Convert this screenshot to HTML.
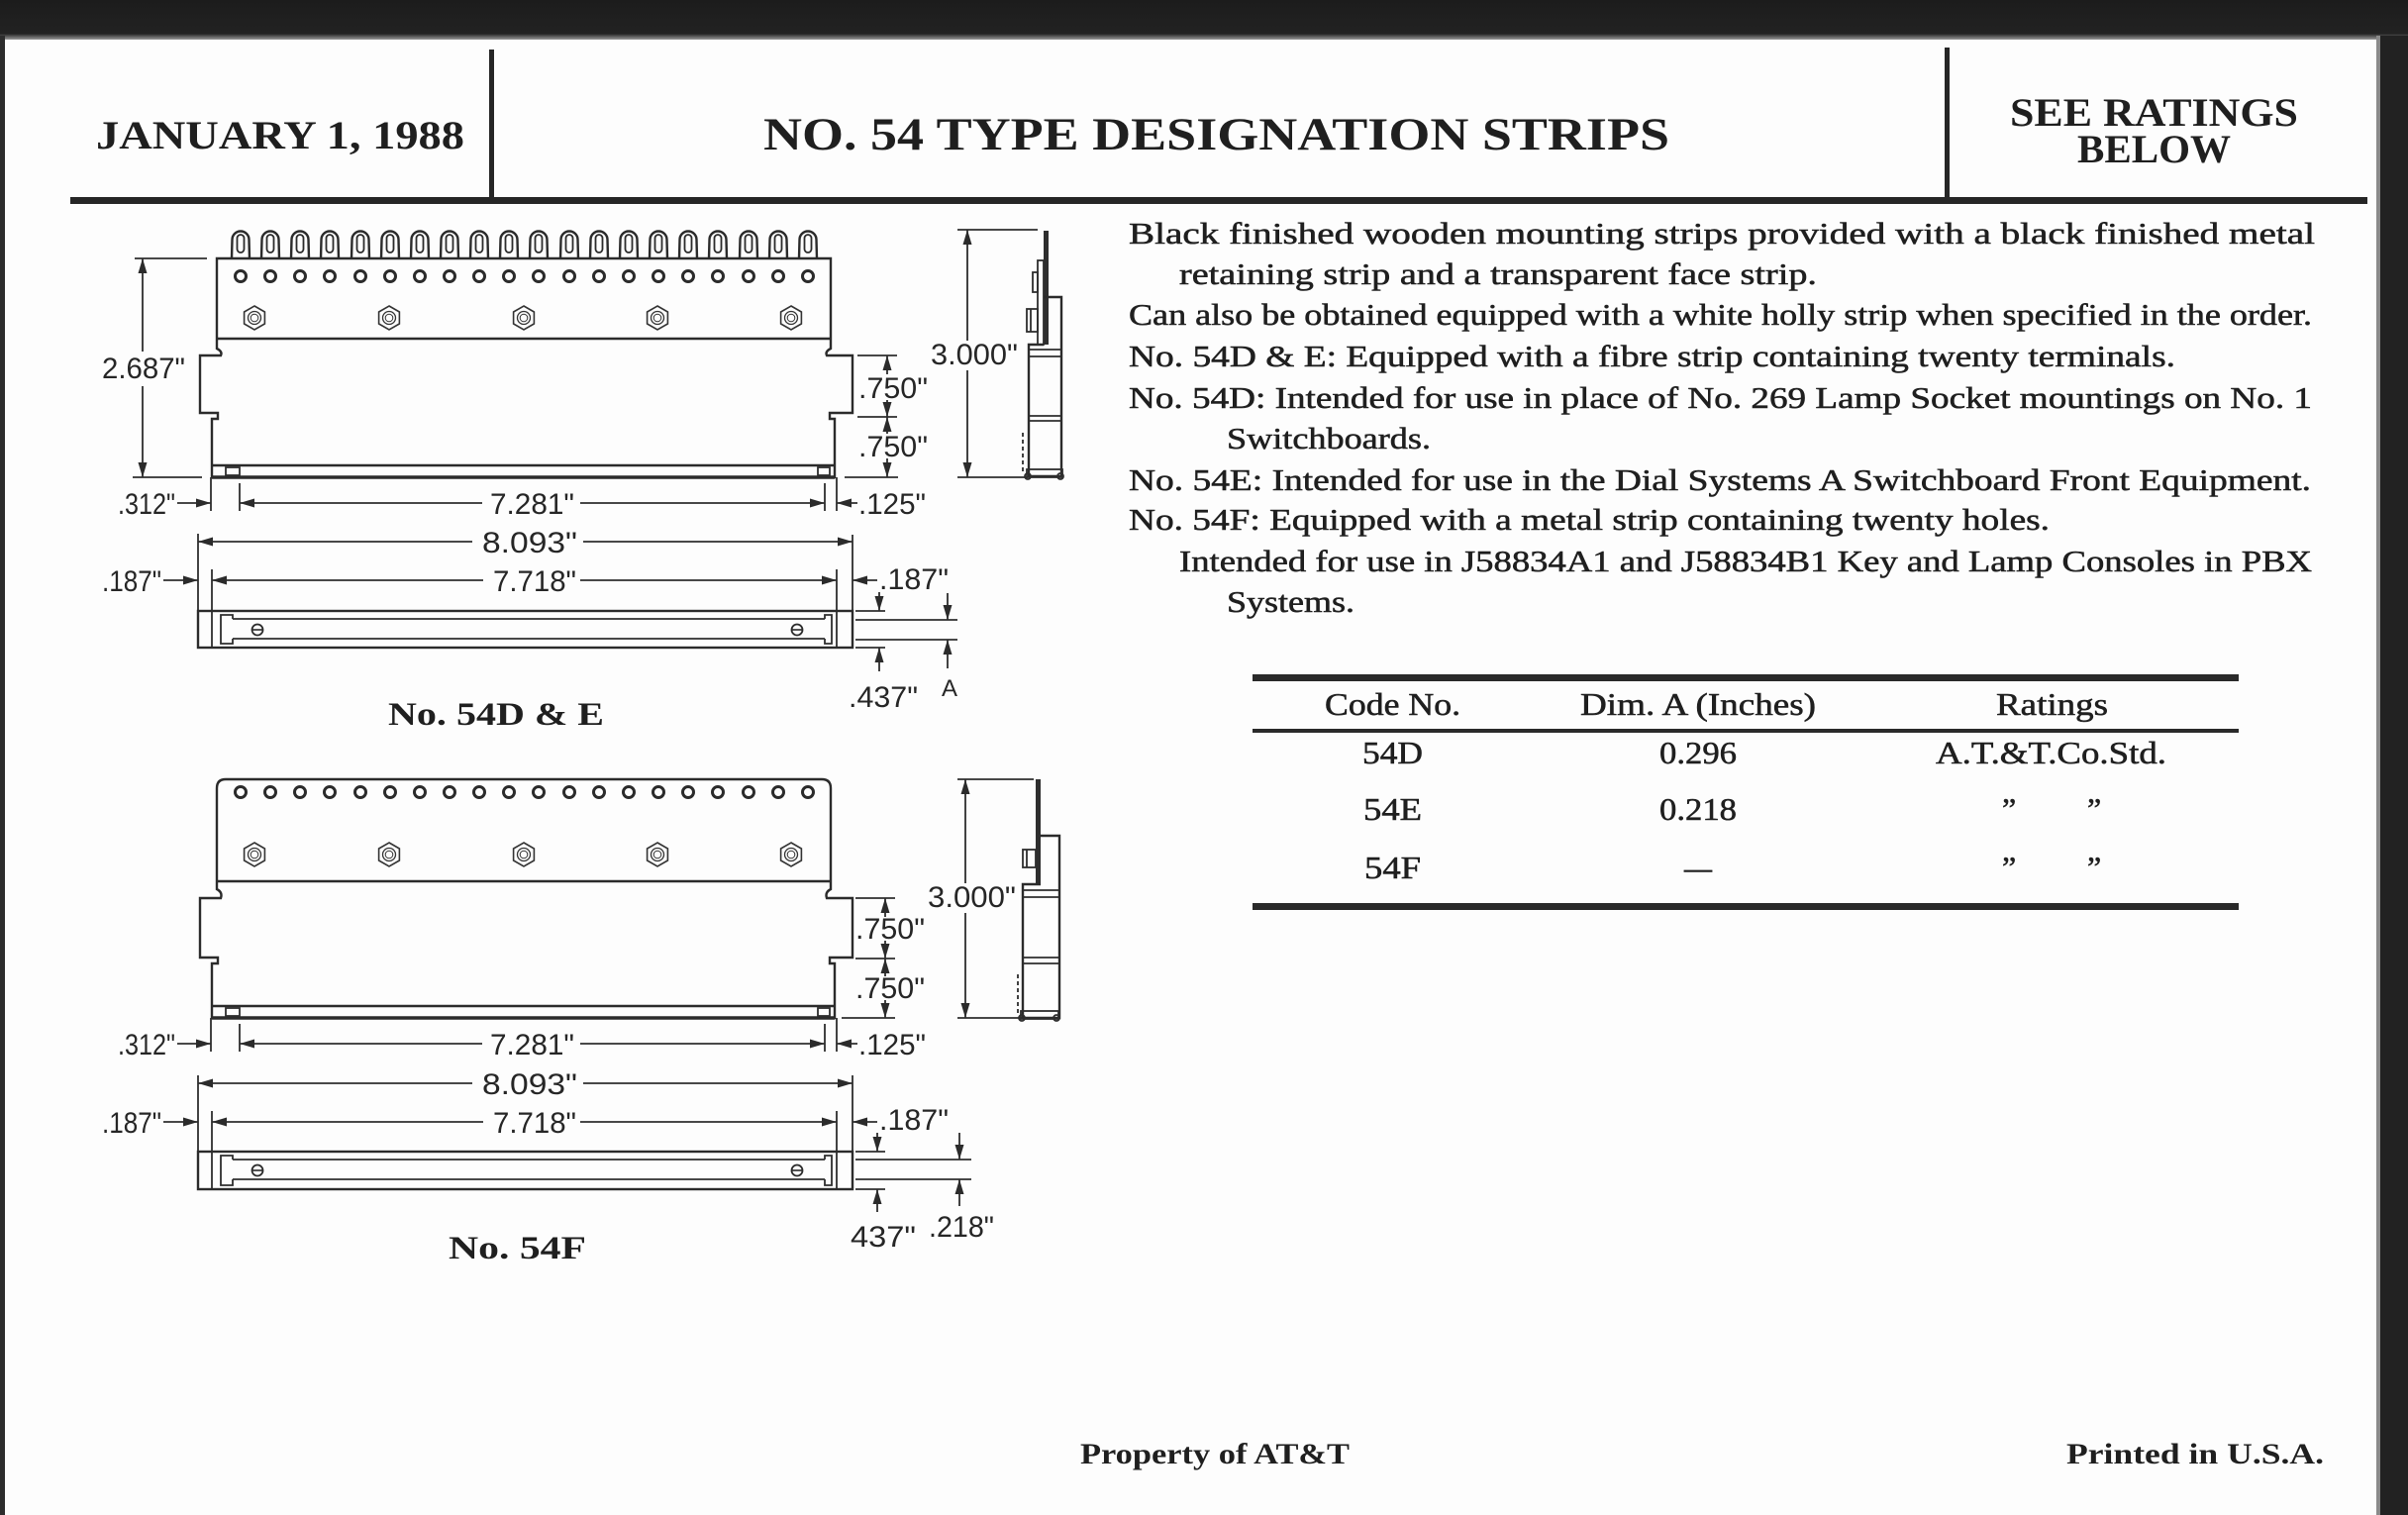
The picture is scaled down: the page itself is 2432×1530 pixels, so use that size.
<!DOCTYPE html>
<html>
<head>
<meta charset="utf-8">
<style>
html,body{margin:0;padding:0;background:#fdfdfd;}
svg{display:block;}
.serif{font-family:"Liberation Serif",serif;fill:#1f1f1f;}
.bt{stroke:#1f1f1f;stroke-width:0.55;}
.sans{font-family:"Liberation Sans",sans-serif;fill:#262626;}
.o{fill:none;stroke:#2b2b2b;stroke-width:2.4;}
.e{fill:none;stroke:#2e2e2e;stroke-width:1.8;}
.d{fill:none;stroke:#2e2e2e;stroke-width:1.8;marker-end:url(#ar);}
</style>
</head>
<body>
<svg width="2432" height="1530" viewBox="0 0 2432 1530" xmlns="http://www.w3.org/2000/svg">
<defs>
<marker id="ar" markerUnits="userSpaceOnUse" markerWidth="15" markerHeight="10" refX="15" refY="5" orient="auto">
<path d="M0,0.5 L15,5 L0,9.5 Z" fill="#2b2b2b"/>
</marker>
<linearGradient id="tg" x1="0" y1="0" x2="0" y2="1">
<stop offset="0" stop-color="#1c1c1c"/><stop offset="0.85" stop-color="#222"/><stop offset="1" stop-color="#9a9a9a"/>
</linearGradient>
<g id="t">
<path d="M-9,0 L-8.5,-19 A8.5,8.5 0 0 1 8.5,-19 L9,0" fill="none" stroke="#2b2b2b" stroke-width="2.4"/>
<rect x="-3.5" y="-24" width="7" height="18" rx="3.5" fill="none" stroke="#2b2b2b" stroke-width="1.8"/>
</g>
<g id="h"><circle r="5.5" fill="none" stroke="#2b2b2b" stroke-width="3"/></g>
<g id="n">
<polygon points="0,-12 10.4,-6 10.4,6 0,12 -10.4,6 -10.4,-6" fill="none" stroke="#333" stroke-width="1.6"/>
<circle r="6.5" fill="none" stroke="#333" stroke-width="1.3"/>
<circle r="3.8" fill="none" stroke="#333" stroke-width="1"/>
</g>
<g id="s"><circle r="5.5" fill="none" stroke="#2b2b2b" stroke-width="1.8"/><line x1="-5" y1="0" x2="5" y2="0" stroke="#2b2b2b" stroke-width="1.6"/></g>
</defs>

<!-- page background & dark borders -->
<rect x="0" y="0" width="2432" height="1530" fill="#fdfdfd"/>
<rect x="0" y="0" width="2432" height="40" fill="url(#tg)"/>
<rect x="0" y="36" width="5" height="1494" fill="#2c2c2c"/>
<rect x="2400" y="36" width="4" height="1494" fill="#8a8a8a"/>
<rect x="2404" y="36" width="28" height="1494" fill="#222"/>

<!-- header -->
<rect x="494" y="50" width="5" height="152" fill="#262626"/>
<rect x="1964" y="48" width="5" height="154" fill="#262626"/>
<rect x="71" y="199" width="2320" height="7" fill="#262626"/>
<text class="serif" x="97" y="150" font-size="40" font-weight="bold" textLength="372" lengthAdjust="spacingAndGlyphs">JANUARY 1, 1988</text>
<text class="serif" x="771" y="151" font-size="47" font-weight="bold" textLength="915" lengthAdjust="spacingAndGlyphs">NO. 54 TYPE DESIGNATION STRIPS</text>
<text class="serif" x="2030" y="127" font-size="40" font-weight="bold" textLength="291" lengthAdjust="spacingAndGlyphs">SEE RATINGS</text>
<text class="serif" x="2098" y="164" font-size="40" font-weight="bold" textLength="155" lengthAdjust="spacingAndGlyphs">BELOW</text>

<!-- body text -->
<g class="serif bt" font-size="31">
<text x="1140" y="246" textLength="1198" lengthAdjust="spacingAndGlyphs">Black finished wooden mounting strips provided with a black finished metal</text>
<text x="1191" y="287" textLength="644" lengthAdjust="spacingAndGlyphs">retaining strip and a transparent face strip.</text>
<text x="1140" y="328" textLength="1195" lengthAdjust="spacingAndGlyphs">Can also be obtained equipped with a white holly strip when specified in the order.</text>
<text x="1140" y="370" textLength="1057" lengthAdjust="spacingAndGlyphs">No. 54D &amp; E: Equipped with a fibre strip containing twenty terminals.</text>
<text x="1140" y="412" textLength="1195" lengthAdjust="spacingAndGlyphs">No. 54D: Intended for use in place of No. 269 Lamp Socket mountings on No. 1</text>
<text x="1239" y="453" textLength="206" lengthAdjust="spacingAndGlyphs">Switchboards.</text>
<text x="1140" y="495" textLength="1194" lengthAdjust="spacingAndGlyphs">No. 54E: Intended for use in the Dial Systems A Switchboard Front Equipment.</text>
<text x="1140" y="535" textLength="930" lengthAdjust="spacingAndGlyphs">No. 54F: Equipped with a metal strip containing twenty holes.</text>
<text x="1191" y="577" textLength="1144" lengthAdjust="spacingAndGlyphs">Intended for use in J58834A1 and J58834B1 Key and Lamp Consoles in PBX</text>
<text x="1239" y="618" textLength="129" lengthAdjust="spacingAndGlyphs">Systems.</text>
</g>

<!-- table -->
<rect x="1265" y="681" width="996" height="7" fill="#2a2a2a"/>
<rect x="1265" y="736" width="996" height="4" fill="#2a2a2a"/>
<rect x="1265" y="912" width="996" height="7" fill="#2a2a2a"/>
<g class="serif bt" font-size="32">
<text x="1338" y="722" textLength="137" lengthAdjust="spacingAndGlyphs">Code No.</text>
<text x="1596" y="722" textLength="238" lengthAdjust="spacingAndGlyphs">Dim. A (Inches)</text>
<text x="2016" y="722" textLength="113" lengthAdjust="spacingAndGlyphs">Ratings</text>
<text x="1376" y="771" textLength="61" lengthAdjust="spacingAndGlyphs">54D</text>
<text x="1676" y="771" textLength="78" lengthAdjust="spacingAndGlyphs">0.296</text>
<text x="1955" y="771" textLength="233" lengthAdjust="spacingAndGlyphs">A.T.&amp;T.Co.Std.</text>
<text x="1377" y="828" textLength="59" lengthAdjust="spacingAndGlyphs">54E</text>
<text x="1676" y="828" textLength="78" lengthAdjust="spacingAndGlyphs">0.218</text>
<text x="2022" y="828">”</text>
<text x="2108" y="828">”</text>
<text x="1378" y="887" textLength="57" lengthAdjust="spacingAndGlyphs">54F</text>
<text x="1701" y="887" textLength="28" lengthAdjust="spacingAndGlyphs">—</text>
<text x="2022" y="887">”</text>
<text x="2108" y="887">”</text>
</g>

<!-- footer -->
<text class="serif" x="1091" y="1478" font-size="30" font-weight="bold" textLength="272" lengthAdjust="spacingAndGlyphs">Property of AT&amp;T</text>
<text class="serif" x="2087" y="1478" font-size="30" font-weight="bold" textLength="260" lengthAdjust="spacingAndGlyphs">Printed in U.S.A.</text>

<!-- ================= DRAWING 1 : No. 54D & E ================= -->
<g>
<use href="#t" x="243" y="261"/><use href="#t" x="273" y="261"/><use href="#t" x="303" y="261"/><use href="#t" x="333" y="261"/>
<use href="#t" x="364" y="261"/><use href="#t" x="394" y="261"/><use href="#t" x="424" y="261"/><use href="#t" x="454" y="261"/>
<use href="#t" x="484" y="261"/><use href="#t" x="514" y="261"/><use href="#t" x="544" y="261"/><use href="#t" x="575" y="261"/>
<use href="#t" x="605" y="261"/><use href="#t" x="635" y="261"/><use href="#t" x="665" y="261"/><use href="#t" x="695" y="261"/>
<use href="#t" x="725" y="261"/><use href="#t" x="756" y="261"/><use href="#t" x="786" y="261"/><use href="#t" x="816" y="261"/>
<use href="#h" x="243" y="279"/><use href="#h" x="273" y="279"/><use href="#h" x="303" y="279"/><use href="#h" x="333" y="279"/>
<use href="#h" x="364" y="279"/><use href="#h" x="394" y="279"/><use href="#h" x="424" y="279"/><use href="#h" x="454" y="279"/>
<use href="#h" x="484" y="279"/><use href="#h" x="514" y="279"/><use href="#h" x="544" y="279"/><use href="#h" x="575" y="279"/>
<use href="#h" x="605" y="279"/><use href="#h" x="635" y="279"/><use href="#h" x="665" y="279"/><use href="#h" x="695" y="279"/>
<use href="#h" x="725" y="279"/><use href="#h" x="756" y="279"/><use href="#h" x="786" y="279"/><use href="#h" x="816" y="279"/>
<use href="#n" x="257" y="321"/><use href="#n" x="393" y="321"/><use href="#n" x="529" y="321"/><use href="#n" x="664" y="321"/><use href="#n" x="799" y="321"/>
<path class="o" d="M219,261 H839 V352 Q833,355 835,359 H861 V417 H838 V423 H843 V482 H214 V423 H220 V417 H202 V359 H223 Q225,355 219,352 Z"/>
<line class="o" x1="219" y1="342" x2="839" y2="342"/>
<line class="o" x1="214" y1="470" x2="843" y2="470" stroke-width="2"/>
<line x1="214" y1="482" x2="843" y2="482" stroke="#2b2b2b" stroke-width="3.5"/>
<rect class="e" x="228" y="472" width="14" height="8"/>
<rect class="e" x="826" y="472" width="12" height="8"/>

<line class="e" x1="136" y1="261" x2="209" y2="261"/>
<line class="e" x1="134" y1="482" x2="204" y2="482"/>
<line class="d" x1="144" y1="355" x2="144" y2="261"/>
<line class="d" x1="144" y1="390" x2="144" y2="482"/>
<text class="sans" x="103" y="382" font-size="30" textLength="84" lengthAdjust="spacingAndGlyphs">2.687"</text>

<line class="e" x1="866" y1="359" x2="906" y2="359"/>
<line class="e" x1="866" y1="421" x2="906" y2="421"/>
<line class="e" x1="853" y1="482" x2="907" y2="482"/>
<line class="d" x1="896" y1="378" x2="896" y2="359"/>
<line class="d" x1="896" y1="404" x2="896" y2="421"/>
<line class="d" x1="896" y1="438" x2="896" y2="421"/>
<line class="d" x1="896" y1="463" x2="896" y2="482"/>
<text class="sans" x="867" y="402" font-size="30" textLength="70" lengthAdjust="spacingAndGlyphs">.750"</text>
<text class="sans" x="867" y="461" font-size="30" textLength="70" lengthAdjust="spacingAndGlyphs">.750"</text>

<line class="e" x1="967" y1="232" x2="1048" y2="232"/>
<line class="e" x1="967" y1="482" x2="1038" y2="482"/>
<line class="d" x1="977" y1="344" x2="977" y2="232"/>
<line class="d" x1="977" y1="374" x2="977" y2="482"/>
<text class="sans" x="940" y="368" font-size="30" textLength="88" lengthAdjust="spacingAndGlyphs">3.000"</text>

<rect x="1054" y="233" width="5" height="115" fill="#2e2e2e"/>
<rect class="e" x="1048" y="263" width="6" height="85"/>
<rect class="e" x="1043" y="275" width="5" height="20"/>
<rect class="e" x="1037" y="312" width="11" height="23"/>
<line class="e" x1="1041" y1="312" x2="1041" y2="335"/>
<path class="o" d="M1054,300 H1072 V481 H1039 V348 H1054"/>
<line class="e" x1="1039" y1="353" x2="1072" y2="353"/>
<line class="e" x1="1039" y1="360" x2="1072" y2="360"/>
<line class="e" x1="1039" y1="420" x2="1072" y2="420"/>
<line class="e" x1="1039" y1="425" x2="1072" y2="425"/>
<line class="e" x1="1033" y1="437" x2="1033" y2="478" stroke-dasharray="4,3"/>
<rect class="e" x="1037" y="474" width="36" height="8"/>
<circle class="e" cx="1038" cy="481" r="3"/>
<circle class="e" cx="1071" cy="481" r="3"/>

<line class="e" x1="213" y1="482" x2="213" y2="516"/>
<line class="e" x1="242" y1="488" x2="242" y2="516"/>
<line class="e" x1="833" y1="488" x2="833" y2="516"/>
<line class="e" x1="845" y1="482" x2="845" y2="516"/>
<text class="sans" x="119" y="519" font-size="30" textLength="58" lengthAdjust="spacingAndGlyphs">.312"</text>
<line class="d" x1="179" y1="508" x2="213" y2="508"/>
<line class="d" x1="487" y1="508" x2="242" y2="508"/>
<text class="sans" x="495" y="519" font-size="30" textLength="85" lengthAdjust="spacingAndGlyphs">7.281"</text>
<line class="d" x1="586" y1="508" x2="833" y2="508"/>
<line class="d" x1="866" y1="508" x2="845" y2="508"/>
<text class="sans" x="867" y="519" font-size="30" textLength="68" lengthAdjust="spacingAndGlyphs">.125"</text>

<line class="e" x1="200" y1="539" x2="200" y2="617"/>
<line class="e" x1="861" y1="540" x2="861" y2="617"/>
<line class="d" x1="477" y1="547" x2="200" y2="547"/>
<text class="sans" x="487" y="558" font-size="30" textLength="96" lengthAdjust="spacingAndGlyphs">8.093"</text>
<line class="d" x1="589" y1="547" x2="861" y2="547"/>

<text class="sans" x="103" y="597" font-size="30" textLength="60" lengthAdjust="spacingAndGlyphs">.187"</text>
<line class="d" x1="165" y1="586" x2="200" y2="586"/>
<line class="e" x1="214" y1="575" x2="214" y2="617"/>
<line class="e" x1="845" y1="575" x2="845" y2="617"/>
<line class="d" x1="488" y1="586" x2="214" y2="586"/>
<text class="sans" x="498" y="597" font-size="30" textLength="84" lengthAdjust="spacingAndGlyphs">7.718"</text>
<line class="d" x1="586" y1="586" x2="845" y2="586"/>
<line class="d" x1="886" y1="586" x2="861" y2="586"/>
<text class="sans" x="888" y="595" font-size="30" textLength="70" lengthAdjust="spacingAndGlyphs">.187"</text>

<rect class="o" x="200" y="617" width="661" height="37"/>
<line class="e" x1="214" y1="617" x2="214" y2="654"/>
<line class="e" x1="845" y1="617" x2="845" y2="654"/>
<line class="e" x1="235" y1="625" x2="833" y2="625"/>
<line class="e" x1="235" y1="645" x2="833" y2="645"/>
<path class="e" d="M235,625 V621 H223 V650 H235 V645"/>
<path class="e" d="M833,625 V621 H840 V650 H833 V645"/>
<use href="#s" x="260" y="636"/>
<use href="#s" x="805" y="636"/>

<line class="e" x1="864" y1="617" x2="894" y2="617"/>
<line class="e" x1="864" y1="654" x2="894" y2="654"/>
<line class="e" x1="864" y1="626" x2="967" y2="626"/>
<line class="e" x1="864" y1="646" x2="967" y2="646"/>
<line class="d" x1="888" y1="598" x2="888" y2="617"/>
<line class="d" x1="888" y1="678" x2="888" y2="654"/>
<line class="d" x1="957" y1="599" x2="957" y2="626"/>
<line class="d" x1="957" y1="675" x2="957" y2="646"/>
<text class="sans" x="857" y="714" font-size="30" textLength="70" lengthAdjust="spacingAndGlyphs">.437"</text>
<text class="sans" x="951" y="703" font-size="24" textLength="16" lengthAdjust="spacingAndGlyphs">A</text>

<text class="serif" x="392" y="732" font-size="33" font-weight="bold" textLength="218" lengthAdjust="spacingAndGlyphs">No. 54D &amp; E</text>
</g>

<!-- ================= DRAWING 2 : No. 54F ================= -->
<g>
<use href="#h" x="243" y="800"/><use href="#h" x="273" y="800"/><use href="#h" x="303" y="800"/><use href="#h" x="333" y="800"/>
<use href="#h" x="364" y="800"/><use href="#h" x="394" y="800"/><use href="#h" x="424" y="800"/><use href="#h" x="454" y="800"/>
<use href="#h" x="484" y="800"/><use href="#h" x="514" y="800"/><use href="#h" x="544" y="800"/><use href="#h" x="575" y="800"/>
<use href="#h" x="605" y="800"/><use href="#h" x="635" y="800"/><use href="#h" x="665" y="800"/><use href="#h" x="695" y="800"/>
<use href="#h" x="725" y="800"/><use href="#h" x="756" y="800"/><use href="#h" x="786" y="800"/><use href="#h" x="816" y="800"/>
<use href="#n" x="257" y="863"/><use href="#n" x="393" y="863"/><use href="#n" x="529" y="863"/><use href="#n" x="664" y="863"/><use href="#n" x="799" y="863"/>
<path class="o" d="M219,796 Q219,787 228,787 H830 Q839,787 839,796 V898 Q833,901 835,907 H861 V967 H838 V973 H843 V1028 H214 V973 H220 V967 H202 V907 H223 Q225,901 219,898 Z"/>
<line class="o" x1="219" y1="890" x2="839" y2="890"/>
<line class="o" x1="214" y1="1016" x2="843" y2="1016" stroke-width="2"/>
<line x1="214" y1="1028" x2="843" y2="1028" stroke="#2b2b2b" stroke-width="3.5"/>
<rect class="e" x="228" y="1018" width="14" height="8"/>
<rect class="e" x="826" y="1018" width="12" height="8"/>

<line class="e" x1="864" y1="907" x2="904" y2="907"/>
<line class="e" x1="864" y1="968" x2="904" y2="968"/>
<line class="e" x1="850" y1="1028" x2="904" y2="1028"/>
<line class="d" x1="894" y1="926" x2="894" y2="907"/>
<line class="d" x1="894" y1="950" x2="894" y2="968"/>
<line class="d" x1="894" y1="986" x2="894" y2="968"/>
<line class="d" x1="894" y1="1010" x2="894" y2="1028"/>
<text class="sans" x="864" y="948" font-size="30" textLength="70" lengthAdjust="spacingAndGlyphs">.750"</text>
<text class="sans" x="864" y="1008" font-size="30" textLength="70" lengthAdjust="spacingAndGlyphs">.750"</text>

<line class="e" x1="967" y1="787" x2="1044" y2="787"/>
<line class="e" x1="967" y1="1028" x2="1040" y2="1028"/>
<line class="d" x1="975" y1="892" x2="975" y2="787"/>
<line class="d" x1="975" y1="922" x2="975" y2="1028"/>
<text class="sans" x="937" y="916" font-size="30" textLength="89" lengthAdjust="spacingAndGlyphs">3.000"</text>

<rect x="1046" y="787" width="5" height="106" fill="#2e2e2e"/>
<rect class="e" x="1033" y="858" width="13" height="18"/>
<line class="e" x1="1037" y1="858" x2="1037" y2="876"/>
<path class="o" d="M1051,844 H1070 V1028 H1033 V893 H1051"/>
<line class="e" x1="1033" y1="899" x2="1070" y2="899"/>
<line class="e" x1="1033" y1="906" x2="1070" y2="906"/>
<line class="e" x1="1033" y1="967" x2="1070" y2="967"/>
<line class="e" x1="1033" y1="973" x2="1070" y2="973"/>
<line class="e" x1="1028" y1="984" x2="1028" y2="1025" stroke-dasharray="4,3"/>
<rect class="e" x="1031" y="1021" width="38" height="8"/>
<circle class="e" cx="1032" cy="1028" r="3"/>
<circle class="e" cx="1067" cy="1028" r="3"/>

<line class="e" x1="213" y1="1028" x2="213" y2="1062"/>
<line class="e" x1="242" y1="1034" x2="242" y2="1062"/>
<line class="e" x1="833" y1="1034" x2="833" y2="1062"/>
<line class="e" x1="845" y1="1028" x2="845" y2="1062"/>
<text class="sans" x="119" y="1065" font-size="30" textLength="58" lengthAdjust="spacingAndGlyphs">.312"</text>
<line class="d" x1="179" y1="1054" x2="213" y2="1054"/>
<line class="d" x1="487" y1="1054" x2="242" y2="1054"/>
<text class="sans" x="495" y="1065" font-size="30" textLength="85" lengthAdjust="spacingAndGlyphs">7.281"</text>
<line class="d" x1="586" y1="1054" x2="833" y2="1054"/>
<line class="d" x1="866" y1="1054" x2="845" y2="1054"/>
<text class="sans" x="867" y="1065" font-size="30" textLength="68" lengthAdjust="spacingAndGlyphs">.125"</text>

<line class="e" x1="200" y1="1086" x2="200" y2="1163"/>
<line class="e" x1="861" y1="1086" x2="861" y2="1163"/>
<line class="d" x1="477" y1="1094" x2="200" y2="1094"/>
<text class="sans" x="487" y="1105" font-size="30" textLength="96" lengthAdjust="spacingAndGlyphs">8.093"</text>
<line class="d" x1="589" y1="1094" x2="861" y2="1094"/>

<text class="sans" x="103" y="1144" font-size="30" textLength="60" lengthAdjust="spacingAndGlyphs">.187"</text>
<line class="d" x1="165" y1="1133" x2="200" y2="1133"/>
<line class="e" x1="214" y1="1122" x2="214" y2="1163"/>
<line class="e" x1="845" y1="1122" x2="845" y2="1163"/>
<line class="d" x1="488" y1="1133" x2="214" y2="1133"/>
<text class="sans" x="498" y="1144" font-size="30" textLength="84" lengthAdjust="spacingAndGlyphs">7.718"</text>
<line class="d" x1="586" y1="1133" x2="845" y2="1133"/>
<line class="d" x1="886" y1="1133" x2="861" y2="1133"/>
<text class="sans" x="888" y="1141" font-size="30" textLength="70" lengthAdjust="spacingAndGlyphs">.187"</text>

<rect class="o" x="200" y="1163" width="661" height="38"/>
<line class="e" x1="214" y1="1163" x2="214" y2="1201"/>
<line class="e" x1="845" y1="1163" x2="845" y2="1201"/>
<line class="e" x1="235" y1="1171" x2="833" y2="1171"/>
<line class="e" x1="235" y1="1191" x2="833" y2="1191"/>
<path class="e" d="M235,1171 V1167 H223 V1197 H235 V1191"/>
<path class="e" d="M833,1171 V1167 H840 V1197 H833 V1191"/>
<use href="#s" x="260" y="1182"/>
<use href="#s" x="805" y="1182"/>

<line class="e" x1="864" y1="1163" x2="894" y2="1163"/>
<line class="e" x1="864" y1="1201" x2="894" y2="1201"/>
<line class="e" x1="864" y1="1171" x2="981" y2="1171"/>
<line class="e" x1="864" y1="1191" x2="981" y2="1191"/>
<line class="d" x1="886" y1="1144" x2="886" y2="1163"/>
<line class="d" x1="886" y1="1224" x2="886" y2="1201"/>
<line class="d" x1="969" y1="1144" x2="969" y2="1171"/>
<line class="d" x1="969" y1="1218" x2="969" y2="1191"/>
<text class="sans" x="859" y="1259" font-size="30" textLength="66" lengthAdjust="spacingAndGlyphs">437"</text>
<text class="sans" x="938" y="1249" font-size="30" textLength="66" lengthAdjust="spacingAndGlyphs">.218"</text>

<text class="serif" x="453" y="1271" font-size="33" font-weight="bold" textLength="139" lengthAdjust="spacingAndGlyphs">No. 54F</text>
</g>
</svg>
</body>
</html>
